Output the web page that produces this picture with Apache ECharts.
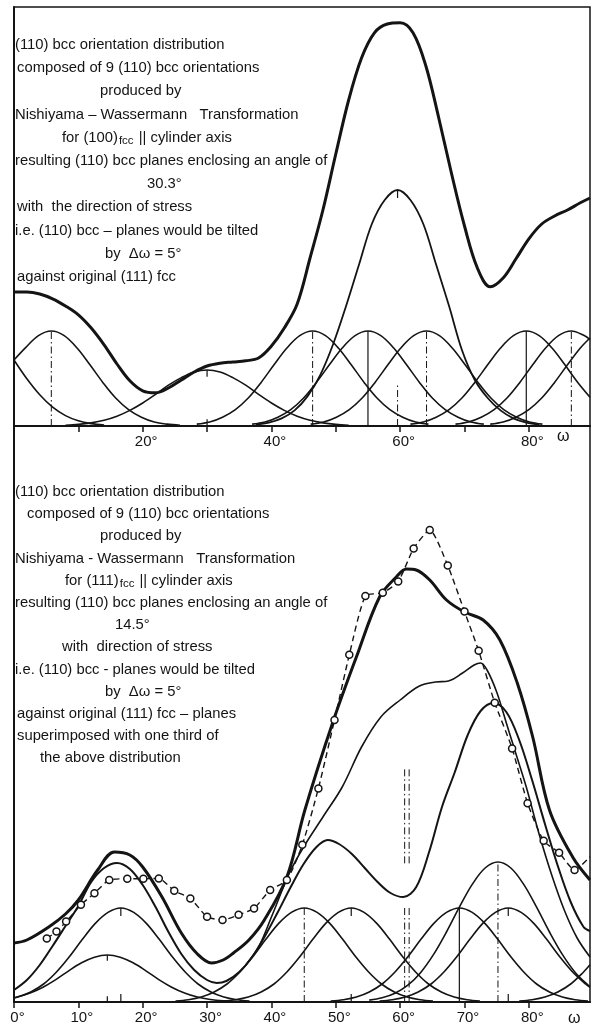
<!DOCTYPE html>
<html>
<head>
<meta charset="utf-8">
<script src="https://cdn.jsdelivr.net/npm/echarts@6/dist/echarts.min.js"></script>
<style>
  html, body { margin: 0; padding: 0; background: #fff; }
  #chart { width: 593px; height: 1029px; }
</style>
</head>
<body>
<div id="chart"></div>
<script>
// ---------- upper panel: (100)fcc || cylinder axis ----------
// omega in degrees, intensity in relative units
const topEnvelope = [[0,33.5],[2,33.5],[4,33],[6,31.8],[8,30],[10,27.8],[12,24.5],[14,20.3],[16,15.5],[18,11.3],[20,8.8],[22,8.3],[24,9.5],[26,11.5],[28,13.5],[30,15],[32,15.7],[34,16],[36,16.3],[38,17],[40,20],[42,24.5],[44,30.5],[46,42],[48,54],[50,68],[52,81.5],[54,92],[56,98.3],[58,100.5],[60,100.8],[62,98.3],[64,90],[66,77],[68,63],[70,50],[72,39.5],[74,34.8],[76,37],[78,41.8],[80,46.8],[82,50.5],[84,52.5],[86,54],[88,55.8],[89.5,57]];
const topPeak60 = [[37.6,0.35],[39.6,0.85],[41.6,1.9],[43.6,3.9],[45.6,7.4],[47.6,12.8],[49.6,20.5],[51.6,30],[53.6,40.3],[55.6,50.5],[57.6,56.5],[59.6,59],[61.6,56.5],[63.6,50.5],[65.6,40.3],[67.6,30],[69.6,19],[71.6,11.5],[73.6,7],[75.6,3.9],[77.6,1.9],[79.6,0.85],[81.6,0.35]];
const topCompM6 = [[0,16.5],[2,11.8],[4,7.8],[6,4.7],[8,2.6],[10,1.3],[12,0.6],[14,0.25]];
const topComp6 = [[0,16.5],[1.8,19.6],[3.8,22.6],[5.8,23.75],[7.8,22.6],[9.8,19.5],[11.8,15.3],[13.8,10.9],[15.8,7.0],[17.8,4.1],[19.8,2.2],[21.8,1.0],[23.8,0.46],[25.8,0.18]];
const topComp30 = [[8,0.19],[10,0.4],[12,0.79],[14,1.44],[16,2.45],[18,3.9],[20,5.75],[22,7.9],[24,10.2],[26,12.1],[28,13.5],[30,14],[32,13.5],[34,12.1],[36,10.2],[38,7.9],[40,5.75],[42,3.9],[44,2.45],[46,1.44],[48,0.79],[50,0.4],[52,0.19]];
const topComp46 = [[28.4,0.46],[30.4,1.0],[32.4,2.2],[34.4,4.1],[36.4,7.0],[38.4,10.9],[40.4,15.3],[42.4,19.5],[44.4,22.6],[46.4,23.75],[48.4,22.6],[50.4,19.5],[52.4,15.3],[54.4,10.9],[56.4,7.0],[58.4,4.1],[60.4,2.2],[62.4,1.0],[64.4,0.46]];
const topComp55 = [[37,0.46],[39,1.0],[41,2.2],[43,4.1],[45,7.0],[47,10.9],[49,15.3],[51,19.5],[53,22.6],[55,23.75],[57,22.6],[59,19.5],[61,15.3],[63,10.9],[65,7.0],[67,4.1],[69,2.2],[71,1.0],[73,0.46]];
const topComp64 = [[46.1,0.46],[48.1,1.0],[50.1,2.2],[52.1,4.1],[54.1,7.0],[56.1,10.9],[58.1,15.3],[60.1,19.5],[62.1,22.6],[64.1,23.75],[66.1,22.6],[68.1,19.5],[70.1,15.3],[72.1,10.9],[74.1,7.0],[76.1,4.1],[78.1,2.2],[80.1,1.0],[82.1,0.46]];
const topComp80 = [[61.6,0.46],[63.6,1.0],[65.6,2.2],[67.6,4.1],[69.6,7.0],[71.6,10.9],[73.6,15.3],[75.6,19.5],[77.6,22.6],[79.6,23.75],[81.6,22.6],[83.6,19.5],[85.6,15.3],[87.6,10.9],[89.5,7.2]];
const topComp87 = [[68.6,0.46],[70.6,1.0],[72.6,2.2],[74.6,4.1],[76.6,7.0],[78.6,10.9],[80.6,15.3],[82.6,19.5],[84.6,22.6],[86.6,23.75],[88.6,22.6],[89.5,21.6]];
const topComp92 = [[74,0.46],[76,1.0],[78,2.2],[80,4.1],[82,7.0],[84,10.9],[86,15.3],[88,19.5],[89.5,22]];
// orientation centres and their peak heights
const topCenters = [5.8, 30, 46.4, 55, 59.6, 64.1, 79.6, 86.6];
const topPeaks   = [23.75, 14, 23.75, 23.75, 59, 23.75, 23.75, 23.75];
const topTickLabels = [20, 40, 60, 80];

// ---------- lower panel: (111)fcc || cylinder axis ----------
const botMeasured = [[5.1,15.9],[6.6,17.6],[8.1,20.1],[10.4,24.3],[12.5,27.2],[14.8,30.5],[17.6,30.8],[20.1,30.8],[22.5,30.9],[24.9,27.8],[27.4,25.9],[30,21.3],[32.4,20.5],[34.9,21.8],[37.3,23.4],[39.8,28],[42.4,30.5],[44.8,39.3],[47.3,53.4],[49.8,70.5],[52.1,86.8],[54.6,101.5],[57.3,102.3],[59.7,105.1],[62.1,113.4],[64.6,118],[67.4,109.1],[70,97.6],[72.2,87.8],[74.7,74.8],[77.4,63.4],[79.8,49.7],[82.3,40.3],[84.7,37.3],[87.1,33],[89.5,36.3]];
const botSum1 = [[0,14.75],[2,15.5],[5.4,18.75],[8,22],[10,25.5],[13,33],[15.6,37.5],[18,36.75],[20,33.75],[23,26.25],[26,17.25],[28.5,12],[30.7,9.75],[32.5,10.5],[34.1,12.25],[36.5,15.5],[38.9,20.5],[42.4,31.25],[45.2,48],[49.5,69.75],[53.2,86.25],[56.8,101.25],[59.4,106.25],[61,108.25],[62.5,108],[64.6,105.5],[67.2,100.5],[70,97.5],[72.9,95.5],[75.5,90.5],[78.2,79.75],[80.6,66.25],[83.2,48],[86.8,36.25],[89.5,30.5]];
const botSum2 = [[0,3],[2,5.5],[4,9.25],[6,14],[8,19],[10,24],[12,30],[14,33.5],[16,34.75],[18,33.25],[20,29.25],[22,23.75],[24,17.5],[26,12],[28,8],[30,5.5],[31.5,4.75],[33,5.25],[35,7.5],[37,11.25],[39,16.5],[41,22.5],[43,28.75],[45,34.5],[47,38.75],[48.75,40.5],[50.5,39.5],[52.5,37],[54.5,33.5],[56.5,30],[58.5,27.25],[60.5,26.25],[62.5,28.75],[64.5,37.5],[66.5,48.75],[68.5,57.5],[70.5,66.75],[72.5,72.75],[74.5,74.75],[76.5,72.5],[78.5,65.5],[80.5,55.5],[82.5,44.5],[84.5,34],[86.5,25],[88.5,18.75],[89.5,17.75]];
const botSum3 = [[36,9.25],[38,13.75],[40,21.25],[42.8,32.25],[45,38.75],[48,46.25],[51,53.75],[54,63.75],[57,71.25],[60,75.5],[63,79],[65.5,80],[67.5,80.25],[69.7,82.25],[71.5,84.25],[72.5,84.75],[73.5,83],[75,77.5],[76.5,69.75],[78,62],[79.6,53.75],[81.5,42.5],[83.5,32],[85.5,23],[87.5,16],[89.5,11.25]];
const botComp14 = [[0,1.05],[2.5,2.25],[4.5,3.7],[6.5,5.6],[8.5,7.8],[10.5,9.8],[12.5,11.2],[14.5,11.75],[16.5,11.2],[18.5,9.8],[20.5,7.8],[22.5,5.6],[24.5,3.7],[26.5,2.25],[28.5,1.23],[30.5,0.62],[32.5,0.28],[34.5,0.12]];
const botComp17 = [[0,0.99],[0.6,1.24],[2.6,2.5],[4.6,4.5],[6.6,7.5],[8.6,11.3],[10.6,15.6],[12.6,19.6],[14.6,22.4],[16.6,23.5],[18.6,22.4],[20.6,19.6],[22.6,15.6],[24.6,11.3],[26.6,7.5],[28.6,4.5],[30.6,2.5],[32.6,1.24],[34.6,0.57],[36.6,0.24]];
const botComp45 = [[25.1,0.24],[27.1,0.57],[29.1,1.24],[31.1,2.5],[33.1,4.5],[35.1,7.5],[37.1,11.3],[39.1,15.6],[41.1,19.6],[43.1,22.4],[45.1,23.5],[47.1,22.4],[49.1,19.6],[51.1,15.6],[53.1,11.3],[55.1,7.5],[57.1,4.5],[59.1,2.5],[61.1,1.24],[63.1,0.57],[65.1,0.24]];
const botComp52 = [[32.4,0.24],[34.4,0.57],[36.4,1.24],[38.4,2.5],[40.4,4.5],[42.4,7.5],[44.4,11.3],[46.4,15.6],[48.4,19.6],[50.4,22.4],[52.4,23.5],[54.4,22.4],[56.4,19.6],[58.4,15.6],[60.4,11.3],[62.4,7.5],[64.4,4.5],[66.4,2.5],[68.4,1.24],[70.4,0.57],[72.4,0.24]];
const botComp69 = [[49.2,0.24],[51.2,0.57],[53.2,1.24],[55.2,2.5],[57.2,4.5],[59.2,7.5],[61.2,11.3],[63.2,15.6],[65.2,19.6],[67.2,22.4],[69.2,23.5],[71.2,22.4],[73.2,19.6],[75.2,15.6],[77.2,11.3],[79.2,7.5],[81.2,4.5],[83.2,2.5],[85.2,1.24],[87.2,0.57],[89.2,0.24]];
const botComp75 = [[55.2,0.46],[57.2,1.05],[59.2,2.2],[61.2,4.2],[63.2,7.4],[65.2,11.9],[67.2,17.5],[69.2,23.7],[71.2,29.4],[73.2,33.5],[75.2,35],[77.2,33.5],[79.2,29.4],[81.2,23.7],[83.2,17.5],[85.2,11.9],[87.2,7.4],[89.2,4.2],[89.5,3.9]];
const botComp77 = [[56.8,0.24],[58.8,0.57],[60.8,1.24],[62.8,2.5],[64.8,4.5],[66.8,7.5],[68.8,11.3],[70.8,15.6],[72.8,19.6],[74.8,22.4],[76.8,23.5],[78.8,22.4],[80.8,19.6],[82.8,15.6],[84.8,11.3],[86.8,7.5],[88.8,4.5],[89.5,3.7]];
const botComp98 = [[78.5,0.24],[80.5,0.57],[82.5,1.24],[84.5,2.5],[86.5,4.5],[88.5,7.5],[89.5,9.3]];
const botCenters = [14.5, 16.6, 45.1, 52.4, 60.7, 61.4, 69.2, 75.2, 76.8];
const botPeaks   = [11.75, 23.5, 23.5, 23.5, 58.75, 58.75, 23.5, 35, 23.5];
const botTickLabels = [0, 10, 20, 30, 40, 50, 60, 70, 80];

// ---------- drawing ----------
const INK = '#141414';
const FONT = '"Liberation Sans", Arial, sans-serif';
const DASHDOT = [7, 3, 1.5, 3];
const X_MAX = 89.5;

// how each centre line is drawn
const topMarkStyle = ['dashdot', 'tick', 'dashdot', 'solid', 'tickLow', 'dashdot', 'solid', 'dashdot'];
const botMarkStyle = ['tick', 'tick', 'dashdot', 'tick', 'gap', 'gap', 'solid', 'dashdot', 'tick'];

function curve(data, g, width, extra) {
  return Object.assign({
    type: 'line', xAxisIndex: g, yAxisIndex: g, data: data,
    smooth: 0.35, showSymbol: false, symbol: 'none',
    lineStyle: { color: INK, width: width }, silent: true, animation: false, z: 3
  }, extra || {});
}
function seg(g, x, y0, y1, type, width) {
  return curve([[x, y0], [x, y1]], g, width || 1, {
    smooth: false, lineStyle: { color: INK, width: width || 1, type: type }, z: 2
  });
}
function marks(g, centers, peaks, styles) {
  const out = [];
  centers.forEach((c, i) => {
    const p = peaks[i], s = styles[i], t = Math.min(2, p * 0.12);
    if (s === 'solid') out.push(seg(g, c, 0, p, 'solid', 1.2));
    else if (s === 'dashdot') out.push(seg(g, c, 0, p, DASHDOT, 1));
    else if (s === 'tick') { out.push(seg(g, c, p, p - t, 'solid', 1.2)); out.push(seg(g, c, 0, t, 'solid', 1.2)); }
    else if (s === 'tickLow') { out.push(seg(g, c, p, p - 2, 'solid', 1.2)); out.push(seg(g, c, 0, p * 0.18, DASHDOT, 1)); }
    else if (s === 'gap') { out.push(seg(g, c, 0, p * 0.4, DASHDOT, 1)); out.push(seg(g, c, p * 0.59, p, DASHDOT, 1)); }
  });
  return out;
}

// measured points: open circles, none on the frame edge where the trace leaves the plot
const measuredItems = botMeasured.map(p => p[0] >= X_MAX ? { value: p, symbol: 'none' } : { value: p });

const series = [
  curve(topEnvelope, 0, 3),
  curve(topPeak60, 0, 1.8),
  curve(topCompM6, 0, 1.6), curve(topComp6, 0, 1.6), curve(topComp30, 0, 1.6),
  curve(topComp46, 0, 1.6), curve(topComp55, 0, 1.6), curve(topComp64, 0, 1.6),
  curve(topComp80, 0, 1.6), curve(topComp87, 0, 1.6), curve(topComp92, 0, 1.6),
  ...marks(0, topCenters, topPeaks, topMarkStyle),

  curve(botSum1, 1, 3),
  curve(botSum2, 1, 2),
  curve(botSum3, 1, 1.6),
  curve(measuredItems, 1, 1.4, {
    smooth: 0.2, showSymbol: true, symbol: 'circle', symbolSize: 7,
    itemStyle: { color: '#fff', borderColor: INK, borderWidth: 1.5 },
    lineStyle: { color: INK, width: 1.4, type: [6, 4] }, z: 4
  }),
  curve(botComp14, 1, 1.6), curve(botComp17, 1, 1.6), curve(botComp45, 1, 1.6),
  curve(botComp52, 1, 1.6), curve(botComp69, 1, 1.6), curve(botComp75, 1, 1.6),
  curve(botComp77, 1, 1.6), curve(botComp98, 1, 1.6),
  ...marks(1, botCenters, botPeaks, botMarkStyle)
];

function xAxis(g, labels) {
  return {
    type: 'value', gridIndex: g, min: 0, max: X_MAX, interval: 10,
    axisLine: { show: true, lineStyle: { color: INK, width: 2 } },
    axisTick: { show: true, length: 6, lineStyle: { color: INK, width: 1.5 } },
    splitLine: { show: false },
    axisLabel: {
      show: true, showMaxLabel: false, margin: 8, color: INK,
      fontFamily: FONT, fontSize: 15, padding: [0, 0, 0, 7],
      formatter: v => labels.indexOf(v) >= 0 ? v + '°' : ''
    }
  };
}
function yAxis(g, max) {
  return {
    type: 'value', gridIndex: g, min: 0, max: max,
    axisLine: { show: true, lineStyle: { color: INK, width: 2 } },
    axisTick: { show: false }, axisLabel: { show: false }, splitLine: { show: false }
  };
}

function textBlock(lines, y0, step) {
  return lines.map((ln, i) => ({
    type: 'text', x: ln[1], y: y0 + i * step, silent: true,
    style: {
      text: ln[0], fill: INK, font: '14.8px ' + FONT, verticalAlign: 'middle',
      rich: { s: { fontSize: 11.5, fontFamily: FONT, fill: INK, padding: [7, 1, 0, 1] } }
    }
  }));
}

const topText = [
  ['(110) bcc orientation distribution', 15],
  ['composed of 9 (110) bcc orientations', 17],
  ['produced by', 100],
  ['Nishiyama \u2013 Wassermann   Transformation', 15],
  ['for (100){s|fcc} || cylinder axis', 62],
  ['resulting (110) bcc planes enclosing an angle of', 15],
  ['30.3°', 147],
  ['with  the direction of stress', 17],
  ['i.e. (110) bcc \u2013 planes would be tilted', 15],
  ['by  \u0394\u03c9 = 5°', 105],
  ['against original (111) fcc', 17]
];
const botText = [
  ['(110) bcc orientation distribution', 15],
  ['composed of 9 (110) bcc orientations', 27],
  ['produced by', 100],
  ['Nishiyama - Wassermann   Transformation', 15],
  ['for (111){s|fcc} || cylinder axis', 65],
  ['resulting (110) bcc planes enclosing an angle of', 15],
  ['14.5°', 115],
  ['with  direction of stress', 62],
  ['i.e. (110) bcc - planes would be tilted', 15],
  ['by  \u0394\u03c9 = 5°', 105],
  ['against original (111) fcc \u2013 planes', 17],
  ['superimposed with one third of', 17],
  ['the above distribution', 40]
];

const chart = echarts.init(document.getElementById('chart'), null, { renderer: 'canvas' });
chart.setOption({
  animation: false,
  backgroundColor: '#fff',
  grid: [
    { left: 14, top: 7, width: 576, height: 419, show: true, borderColor: INK, borderWidth: 1.5 },
    { left: 14, top: 426, width: 576, height: 576, show: true, borderColor: INK, borderWidth: 1.5 }
  ],
  xAxis: [xAxis(0, topTickLabels), xAxis(1, botTickLabels)],
  yAxis: [yAxis(0, 104.75), yAxis(1, 144)],
  series: series,
  graphic: [
    ...textBlock(topText, 45, 23.2),
    ...textBlock(botText, 492, 22.2),
    { type: 'text', x: 557, y: 437, silent: true,
      style: { text: '\u03c9', fill: INK, font: '16px ' + FONT, verticalAlign: 'middle' } },
    { type: 'text', x: 568, y: 1019, silent: true,
      style: { text: '\u03c9', fill: INK, font: '16px ' + FONT, verticalAlign: 'middle' } }
  ]
});
</script>
</body>
</html>
